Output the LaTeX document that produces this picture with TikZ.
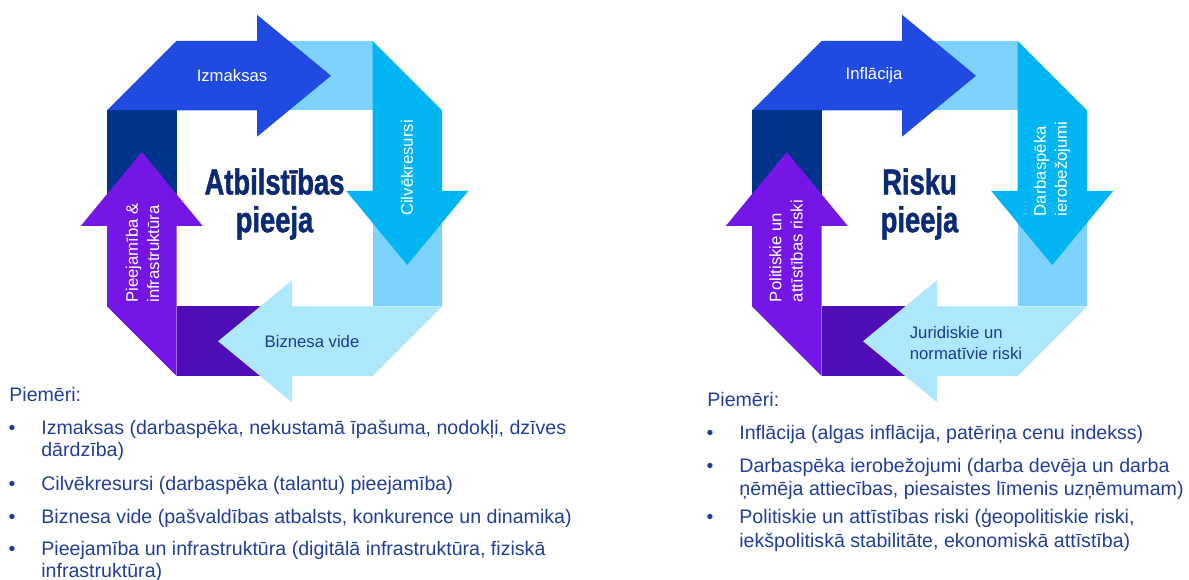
\documentclass[tikz,border=0pt]{standalone}
\usepackage{fontspec}
\setmainfont{Liberation Sans}
\newfontfamily\titlefont[FakeStretch=0.76,FakeBold=1.2]{Liberation Sans}
\definecolor{ringblue}{RGB}{33,74,224}
\definecolor{ringsky}{RGB}{125,211,252}
\definecolor{ringcyan}{RGB}{0,181,241}
\definecolor{ringpale}{RGB}{173,232,255}
\definecolor{ringplum}{RGB}{79,13,181}
\definecolor{ringviolet}{RGB}{116,23,230}
\definecolor{ringnavy}{RGB}{0,52,138}
\definecolor{titlenavy}{RGB}{10,42,115}
\definecolor{labelnavy}{RGB}{30,58,138}
\definecolor{listblue}{RGB}{32,63,154}
\tikzstyle{whitelabel}=[font=\fontsize{9.5}{12}\selectfont,text=white,align=left,inner sep=0pt]
\tikzstyle{navylabel}=[whitelabel,text=labelnavy]
\tikzstyle{titletext}=[font=\titlefont\bfseries\fontsize{20.5}{21.5}\selectfont,text=titlenavy,align=center,inner sep=0pt]
\tikzstyle{listtext}=[font=\fontsize{11.15}{13}\selectfont,text=listblue,anchor=base west,inner sep=0pt]
\tikzstyle{listdot}=[listtext,anchor=base]

\begin{document}
\begin{tikzpicture}[x=0.02cm,y=-0.02cm]
    \useasboundingbox (0,0) rectangle (1189,580);

    % the two rings of arrows
    \foreach \cx in {274.5,919.5}{
      \begin{scope}[shift={(\cx,208.5)}]
        \foreach \ang/\body/\shade in {0/ringblue/ringsky,-90/ringcyan/ringsky,
            -180/ringpale/ringplum,-270/ringviolet/ringnavy}{
          \begin{scope}[rotate=\ang]
            \fill[\shade] (-17.5,-167.5) rectangle (98,-98);
            \fill[\body] (-167.5,-98) -- (-98,-167.5) -- (-17.5,-167.5) -- (-17.5,-193.75)
              -- (56.5,-132.75) -- (-17.5,-71.75) -- (-17.5,-98) -- cycle;
          \end{scope}
        }
      \end{scope}
    }

    % left ring
    \node[titletext] (titleA) at (274.5,204) {Atbilstības\\pieeja};
    \node[whitelabel] (izmaksas) at (232,76) {Izmaksas};
    \node[whitelabel,rotate=90] (cilveki) at (407,168) {Cilvēkresursi};
    \node[navylabel] (vide) at (312,342) {Biznesa vide};
    \node[whitelabel,rotate=90] (infra) at (142.5,253) {Pieejamība \&\\infrastruktūra};

    % right ring
    \node[titletext] (titleB) at (919.5,204) {Risku\\pieeja};
    \node[whitelabel] (inflacija) at (874,75) {Inflācija};
    \node[whitelabel,rotate=90] (darbaspeks) at (1052,169) {Darbaspēka\\ierobežojumi};
    \node[navylabel] (juridiskie) at (966,343) {Juridiskie un\\normatīvie riski};
    \node[whitelabel,rotate=90] (politiskie) at (786,251) {Politiskie un\\attīstības riski};

    % examples, left
    \node[listtext] (headA) at (9,401) {Piemēri:};
    \node[listdot] (dotA1) at (12,435) {•};
    \node[listtext] (itemA1) at (41,435) {Izmaksas (darbaspēka, nekustamā īpašuma, nodokļi, dzīves};
    \node[listtext] (itemA1b) at (41,457) {dārdzība)};
    \node[listdot] (dotA2) at (12,490) {•};
    \node[listtext] (itemA2) at (41,490) {Cilvēkresursi (darbaspēka (talantu) pieejamība)};
    \node[listdot] (dotA3) at (12,523) {•};
    \node[listtext] (itemA3) at (41,523) {Biznesa vide (pašvaldības atbalsts, konkurence un dinamika)};
    \node[listdot] (dotA4) at (12,555) {•};
    \node[listtext] (itemA4) at (41,555) {Pieejamība un infrastruktūra (digitālā infrastruktūra, fiziskā};
    \node[listtext] (itemA4b) at (41,577) {infrastruktūra)};

    % examples, right
    \node[listtext] (headB) at (707,407) {Piemēri:};
    \node[listdot] (dotB1) at (710,439) {•};
    \node[listtext] (itemB1) at (739,439) {Inflācija (algas inflācija, patēriņa cenu indekss)};
    \node[listdot] (dotB2) at (710,472) {•};
    \node[listtext] (itemB2) at (739,472) {Darbaspēka ierobežojumi (darba devēja un darba};
    \node[listtext] (itemB2b) at (739,495) {ņēmēja attiecības, piesaistes līmenis uzņēmumam)};
    \node[listdot] (dotB3) at (710,523) {•};
    \node[listtext] (itemB3) at (739,523) {Politiskie un attīstības riski (ģeopolitiskie riski,};
    \node[listtext] (itemB3b) at (739,547) {iekšpolitiskā stabilitāte, ekonomiskā attīstība)};
\end{tikzpicture}
\end{document}
